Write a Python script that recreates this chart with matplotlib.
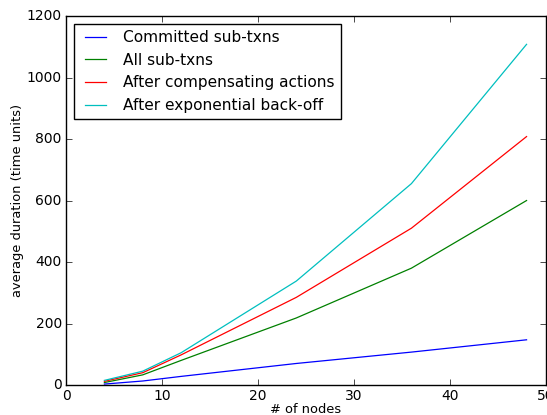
import matplotlib
matplotlib.use('Agg')
import matplotlib.pyplot as plt

plt.style.use('classic')

nodes = [4, 8, 12, 24, 36, 48]
committed = [3, 13, 28, 70, 107, 147]
all_sub = [8, 33, 80, 218, 380, 600]
compensating = [12, 40, 98, 285, 510, 808]
backoff = [15, 45, 105, 338, 655, 1108]

labels = ['Committed sub-txns', 'All sub-txns', 'After compensating actions', 'After exponential back-off']
colors = ['b', 'g', 'r', 'c']

fig = plt.figure(figsize=(5.47, 4.15), dpi=100)
ax = fig.add_axes([0.1207, 0.0723, 0.877, 0.889])
for ys, lab, c in zip([committed, all_sub, compensating, backoff], labels, colors):
    ax.plot(nodes, ys, color=c, label=lab, linewidth=0.9)
ax.set_xlim(0, 50)
ax.set_ylim(0, 1200)
ax.set_xlabel('# of nodes', fontsize=9.4, labelpad=0)
ax.set_ylabel('average duration (time units)', fontsize=9.4, labelpad=2)
ax.tick_params(labelsize=10, pad=3)
ax.legend(loc='upper left', fontsize=11.1, handlelength=2.0, borderaxespad=0.5)
fig.savefig('out.png', dpi=100)
